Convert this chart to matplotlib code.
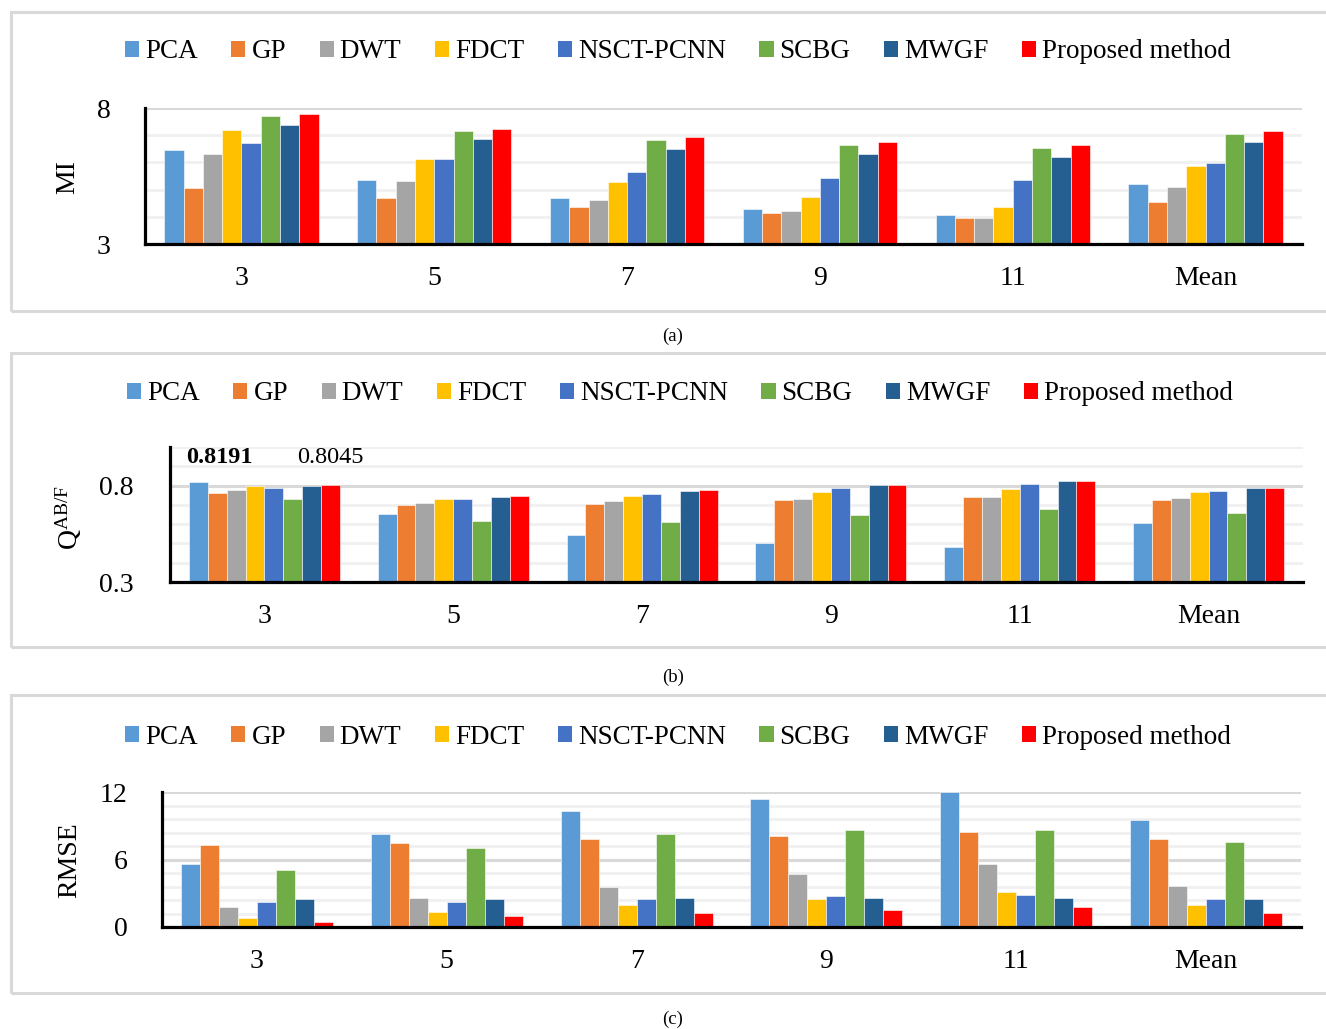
import matplotlib
matplotlib.use("Agg")
import matplotlib.pyplot as plt
from matplotlib.patches import Patch, Rectangle

plt.rcParams['font.family'] = ['Liberation Serif', 'DejaVu Serif']
plt.rcParams['mathtext.fontset'] = 'stix'

W, H = 1326, 1029

# window sizes on the x axis, plus the overall mean
groups = ['3', '5', '7', '9', '11', 'Mean']
methods = ['PCA', 'GP', 'DWT', 'FDCT', 'NSCT-PCNN', 'SCBG', 'MWGF', 'Proposed method']
colors = ['#5B9BD5', '#ED7D31', '#A5A5A5', '#FFC000', '#4472C4', '#70AD47', '#255E91', '#FF0000']

# MI per method, one row per method, columns follow groups
mi = [
    [6.44, 5.37, 4.68, 4.27, 4.05, 5.19],   # PCA
    [5.07, 4.70, 4.36, 4.13, 3.95, 4.55],   # GP
    [6.32, 5.31, 4.61, 4.20, 3.95, 5.09],   # DWT
    [7.18, 6.13, 5.27, 4.73, 4.36, 5.85],   # FDCT
    [6.70, 6.13, 5.64, 5.41, 5.37, 5.98],   # NSCT-PCNN
    [7.70, 7.14, 6.81, 6.65, 6.53, 7.05],   # SCBG
    [7.38, 6.86, 6.49, 6.32, 6.21, 6.76],   # MWGF
    [7.78, 7.23, 6.94, 6.75, 6.65, 7.16],   # Proposed
]

# Q^{AB/F}
qabf = [
    [0.8191, 0.654, 0.544, 0.502, 0.484, 0.604],
    [0.760, 0.698, 0.702, 0.725, 0.739, 0.725],
    [0.779, 0.709, 0.721, 0.732, 0.739, 0.735],
    [0.798, 0.728, 0.746, 0.768, 0.782, 0.765],
    [0.786, 0.728, 0.758, 0.786, 0.809, 0.772],
    [0.732, 0.614, 0.609, 0.646, 0.679, 0.658],
    [0.798, 0.742, 0.772, 0.803, 0.823, 0.786],
    [0.8045, 0.746, 0.775, 0.803, 0.823, 0.789],
]

# RMSE
rmse = [
    [5.63, 8.30, 10.28, 11.41, 12.00, 9.54],
    [7.26, 7.50, 7.79, 8.09, 8.41, 7.79],
    [1.78, 2.55, 3.59, 4.71, 5.60, 3.64],
    [0.80, 1.36, 1.93, 2.52, 3.08, 1.93],
    [2.19, 2.19, 2.46, 2.76, 2.87, 2.52],
    [5.04, 7.05, 8.30, 8.59, 8.65, 7.53],
    [2.46, 2.46, 2.55, 2.58, 2.58, 2.52],
    [0.44, 0.95, 1.24, 1.51, 1.78, 1.21],
]

fig = plt.figure(figsize=(W / 100, H / 100), dpi=100)


def add_ax(x0, y0, x1, y1):
    return fig.add_axes([x0 / W, 1 - y1 / H, (x1 - x0) / W, (y1 - y0) / H])


def draw_panel(ax, data, ylim, major, minor, ylabel, label_xy, legend_xy, ytick_pad, caption_xy, frame):
    # light grey frame around the whole panel
    top, bottom = frame
    fig.add_artist(Rectangle((11 / W, 1 - bottom / H), 1.0, (bottom - top) / H,
                             transform=fig.transFigure, fill=False,
                             edgecolor='#d9d9d9', lw=2.2, clip_on=False))

    for v in minor:
        ax.axhline(v, color='#f0f0f0', lw=2.0, zorder=0)
    for v in major:
        ax.axhline(v, color='#d9d9d9', lw=2.2, zorder=0)

    bw = 0.1
    for j, (vals, c) in enumerate(zip(data, colors)):
        xs = [i + (j - 3.5) * bw for i in range(len(groups))]
        heights = [v - ylim[0] for v in vals]
        ax.bar(xs, heights, width=bw, bottom=ylim[0], color=c,
               edgecolor='white', linewidth=0.4, zorder=2)

    ax.set_xlim(-0.5, len(groups) - 0.5)
    ax.set_ylim(*ylim)
    ax.set_xticks(range(len(groups)))
    ax.set_xticklabels(groups)
    ax.set_yticks([major[0], major[-1]] if len(major) > 1 else major)
    ax.tick_params(axis='x', length=0, pad=15.5, labelsize=20)
    ax.tick_params(axis='y', length=0, pad=ytick_pad, labelsize=20)
    for s in ['top', 'right']:
        ax.spines[s].set_visible(False)
    for s in ['left', 'bottom']:
        ax.spines[s].set_linewidth(2.3)
        ax.spines[s].set_zorder(3)

    fig.text(label_xy[0] / W, 1 - label_xy[1] / H, ylabel, rotation=90,
             ha='center', va='center', fontsize=20)

    handles = [Patch(facecolor=c) for c in colors]
    fig.legend(handles, methods, ncol=8, loc='center',
               bbox_to_anchor=(legend_xy[0] / W, 1 - legend_xy[1] / H),
               frameon=False, fontsize=19.5, handlelength=0.52, handleheight=0.52,
               handletextpad=0.22, columnspacing=1.24, borderpad=0)

    fig.text(caption_xy[0] / W, 1 - caption_xy[1] / H, caption_xy[2],
             ha='center', va='center', fontsize=13.5)


# (a) MI
ax_a = add_ax(145, 108, 1302, 244)
draw_panel(ax_a, mi, (3, 8), [3, 8], [4, 5, 6, 7], 'MI', (68, 177), (678, 52), 25,
           (673, 336, '(a)'), (12, 311))

# (b) Q^{AB/F}
ax_b = add_ax(170, 447, 1303, 582)
draw_panel(ax_b, qabf, (0.3, 1.0), [0.3, 0.8], [0.4, 0.5, 0.6, 0.7, 0.9, 1.0],
           r'Q$^{\mathregular{AB/F}}$', (68, 517), (680, 394), 26.5,
           (673, 677, '(b)'), (353, 647))
ax_b.set_yticks([0.3, 0.8])
ax_b.set_yticklabels(['0.3', '0.8'])

# values called out above the first group
pca_x = 0 + (0 - 3.5) * 0.1
prop_x = 0 + (7 - 3.5) * 0.1
ax_b.text(pca_x + 0.11, 0.943, f'{qabf[0][0]:.4f}', ha='center', va='center',
          fontsize=17.5, fontweight='bold', zorder=4)
ax_b.text(prop_x, 0.943, f'{qabf[7][0]:.4f}', ha='center', va='center',
          fontsize=17.5, zorder=4)

# (c) RMSE
ax_c = add_ax(162, 792, 1301, 927)
draw_panel(ax_c, rmse, (0, 12), [0, 6, 12], [1.2, 2.4, 3.6, 4.8, 7.2, 8.4, 9.6, 10.8],
           'RMSE', (70, 860), (678, 737), 25, (673, 1019, '(c)'), (695, 993))
ax_c.set_yticks([0, 6, 12])

fig.savefig('out.png', dpi=100)
